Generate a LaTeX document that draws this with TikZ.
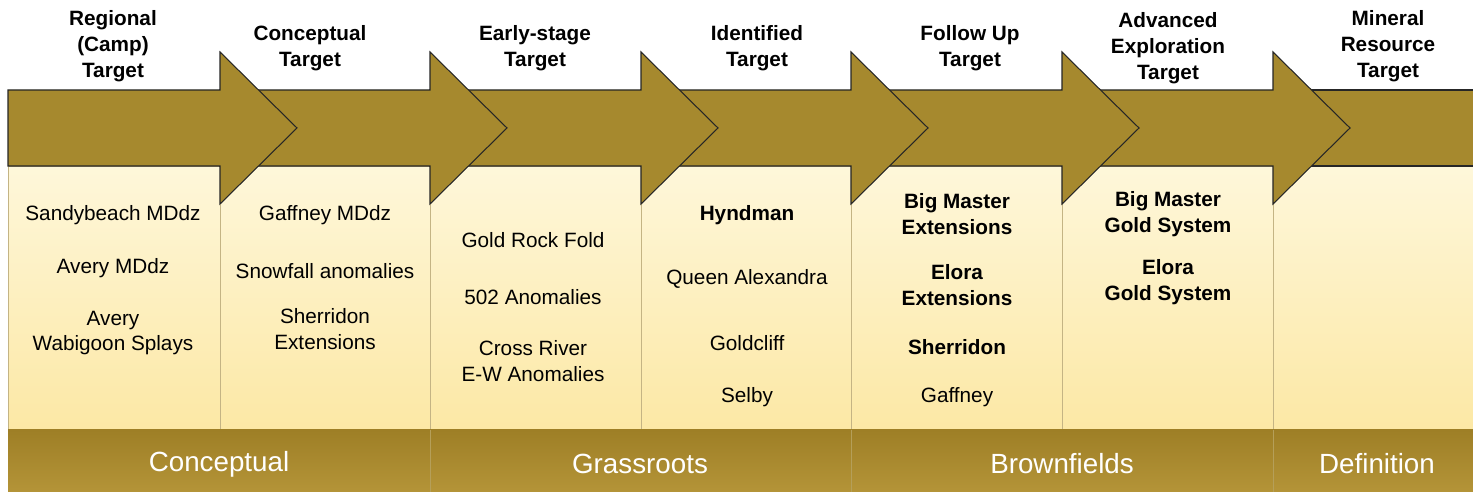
\documentclass[tikz,border=0pt]{standalone}
\usepackage{fontspec}
\setmainfont{Liberation Sans}
\usepackage{tikz}

\definecolor{gold}{RGB}{166,137,46}
\definecolor{bandtop}{RGB}{158,127,38}
\definecolor{bandbot}{RGB}{180,148,56}
\definecolor{creamtop}{RGB}{254,247,218}
\definecolor{creambot}{RGB}{252,232,165}
\definecolor{boxline}{RGB}{196,180,132}

\tikzset{
  stagearrow/.style={fill=gold,draw=black!85,line width=0.6pt,line join=miter},
  itembox/.style={top color=creamtop,bottom color=creambot,draw=boxline,line width=0.5pt},
  phaseband/.style={top color=bandtop,bottom color=bandbot},
  stagelabel/.style={font=\bfseries\fontsize{11.8}{14.7}\selectfont,align=center},
  itemtext/.style={font=\fontsize{11.8}{14.7}\selectfont,align=center},
  itembold/.style={font=\bfseries\fontsize{11.8}{14.7}\selectfont,align=center},
  phaselabel/.style={font=\fontsize{15.8}{18}\selectfont,text=white}
}

\begin{document}
\begin{tikzpicture}[x=0.02cm,y=-0.02cm]
          \useasboundingbox (0,0) rectangle (1473,492);
          % cream boxes under the arrows
          \foreach \l/\r in {8/220,220/430,430/641,641/851,851/1062,1062/1273,1273/1473}
            \draw[itembox] (\l,166) rectangle (\r,430);
          % phase band
          \fill[phaseband] (8,430) rectangle (1473,492);
          \foreach \s in {430,851,1273}
            \draw[boxline!50!gold] (\s,430) -- (\s,492);
          % last shaft, then the arrows from right to left
          \fill[gold] (1273,90) rectangle (1473,166);
          \draw[black!85,line width=0.6pt] (1273,90) -- (1473,90) (1273,166) -- (1473,166);
          \foreach \l/\r in {1062/1273,851/1062,641/851,430/641,220/430,8/220}
            \draw[stagearrow] (\l,90) -- (\r,90) -- (\r,52) -- (\r+77,128)
              -- (\r,204) -- (\r,166) -- (\l,166) -- cycle;
          % stage names
          \node[stagelabel] (regional) at (113,46) {Regional\\(Camp)\\Target};
          \node[stagelabel] (conceptual) at (310,48) {Conceptual\\Target};
          \node[stagelabel] (early) at (535,48) {Early-stage\\Target};
          \node[stagelabel] (identified) at (757,48) {Identified\\Target};
          \node[stagelabel] (followup) at (970,48) {Follow Up\\Target};
          \node[stagelabel] (advanced) at (1168,48) {Advanced\\Exploration\\Target};
          \node[stagelabel] (mineral) at (1388,46) {Mineral\\Resource\\Target};
          % projects
          \node[itemtext] (sandy) at (113,215) {Sandybeach MDdz};
          \node[itemtext] (avery) at (113,268) {Avery MDdz};
          \node[itemtext] (wabigoon) at (113,333) {Avery\\Wabigoon Splays};
          \node[itemtext] (gaffmd) at (325,215) {Gaffney MDdz};
          \node[itemtext] (snowfall) at (325,271) {Snowfall anomalies};
          \node[itemtext] (sherext) at (325,329) {Sherridon\\Extensions};
          \node[itemtext] (goldrock) at (533,240) {Gold Rock Fold};
          \node[itemtext] (five) at (533,297) {502 Anomalies};
          \node[itemtext] (cross) at (533,361) {Cross River\\E-W Anomalies};
          \node[itembold] (hyndman) at (747,215) {Hyndman};
          \node[itemtext] (queen) at (747,279) {Queen Alexandra};
          \node[itemtext] (goldcliff) at (747,343) {Goldcliff};
          \node[itemtext] (selby) at (747,397) {Selby};
          \node[itembold] (bigext) at (957,214) {Big Master\\Extensions};
          \node[itembold] (eloraext) at (957,285) {Elora\\Extensions};
          \node[itembold] (sherridon) at (957,347) {Sherridon};
          \node[itemtext] (gaffney) at (957,397) {Gaffney};
          \node[itembold] (bigsys) at (1168,214) {Big Master\\Gold System};
          \node[itembold] (elorasys) at (1168,282) {Elora\\Gold System};
          % phases
          \node[phaselabel] (pconcept) at (219,464) {Conceptual};
          \node[phaselabel] (pgrass) at (640,464) {Grassroots};
          \node[phaselabel] (pbrown) at (1062,464) {Brownfields};
          \node[phaselabel] (pdef) at (1377,464) {Definition};
        \end{tikzpicture}
\end{document}
